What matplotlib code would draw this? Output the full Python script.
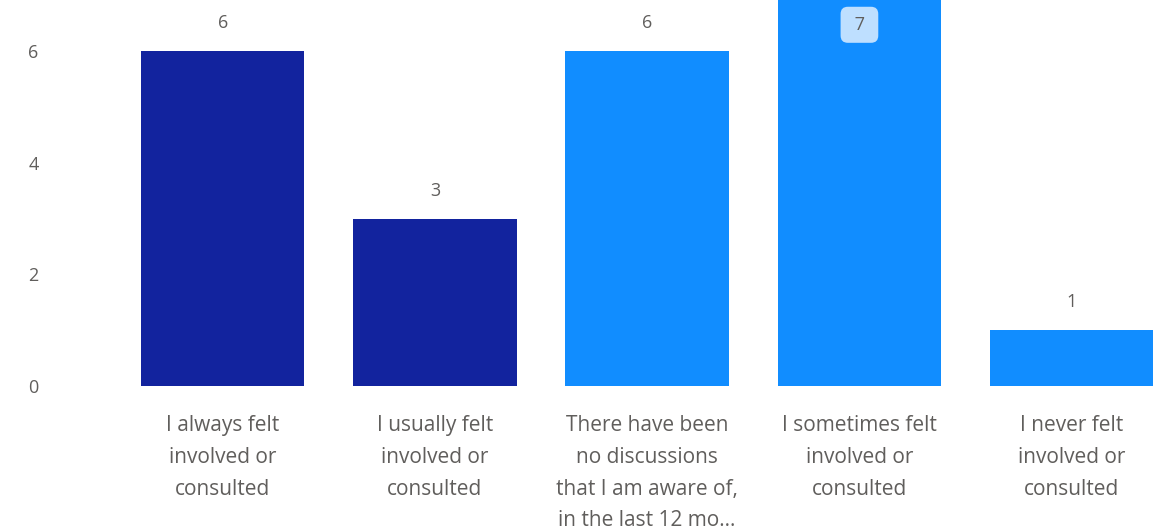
import matplotlib
matplotlib.use("Agg")
import matplotlib.pyplot as plt
import numpy as np

plt.rcParams["font.family"] = ["Open Sans", "DejaVu Sans"]

# 数据
categories = [
    "I always felt\ninvolved or\nconsulted",
    "I usually felt\ninvolved or\nconsulted",
    "There have been\nno discussions\nthat I am aware of,\nin the last 12 mo...",
    "I sometimes felt\ninvolved or\nconsulted",
    "I never felt\ninvolved or\nconsulted",
]
counts = [6, 3, 6, 7, 1]
bar_colors = ["#12239E", "#12239E", "#118DFF", "#118DFF", "#118DFF"]
yticks = [0, 2, 4, 6]

text_color = "#605E5C"

fig = plt.figure(figsize=(11.6, 5.32), dpi=100)
ax = fig.add_axes([116.5 / 1160, (532 - 386) / 532, (1160 - 116.5) / 1160, 386 / 532])

x = np.arange(len(categories))
bars = ax.bar(x, counts, width=0.77, color=bar_colors)

ax.set_xlim(-0.5, 4.416)
ax.set_ylim(0, 6.914)

# 数据标签
for xi, v in zip(x, counts):
    if v == max(counts):
        ax.text(xi, 6.47, f" {v} ", ha="center", va="center", fontsize=13, color=text_color,
                bbox=dict(boxstyle="round,pad=0.5,rounding_size=0.4", fc="#BEDFFF", ec="none"))
    else:
        ax.text(xi, v + 0.5, str(v), ha="center", va="center", fontsize=13, color=text_color)

ax.set_xticks(x)
ax.set_xticklabels(categories, fontsize=15, color=text_color, linespacing=1.67, va="top")
ax.set_yticks(yticks)
ax.set_yticklabels([str(t) for t in yticks], fontsize=13, color=text_color)
ax.tick_params(axis="x", length=0, pad=21)
ax.tick_params(axis="y", length=0, pad=56)

for s in ax.spines.values():
    s.set_visible(False)

fig.savefig("out.png", dpi=100)
